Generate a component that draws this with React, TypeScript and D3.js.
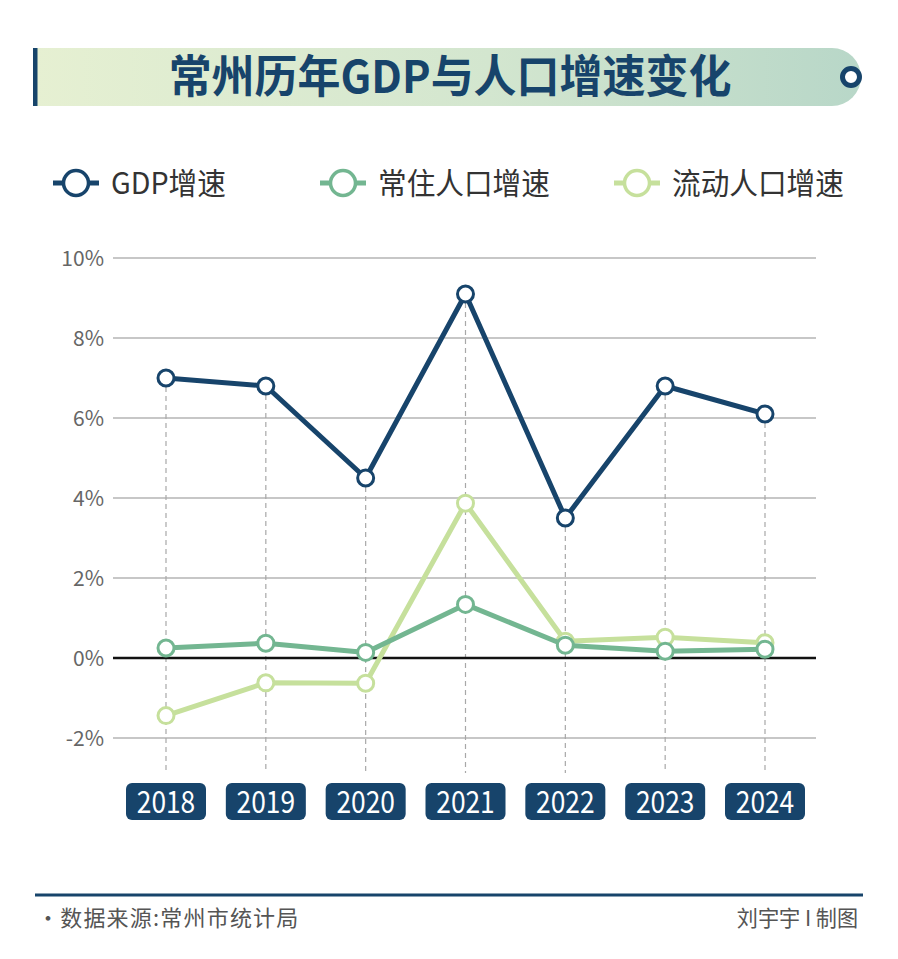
import React from "react";
import * as d3 from "d3";

const years = ["2018", "2019", "2020", "2021", "2022", "2023", "2024"];
const gdpGrowth = [7.0, 6.8, 4.5, 9.1, 3.5, 6.8, 6.1];
const residentGrowth = [0.25, 0.37, 0.14, 1.34, 0.32, 0.17, 0.22];
const floatingGrowth = [-1.44, -0.62, -0.63, 3.87, 0.42, 0.52, 0.38];
const yTicks = [10, 8, 6, 4, 2, 0, -2];
const seriesNames = ["GDP增速", "常住人口增速", "流动人口增速"];
const title = "常州历年GDP与人口增速变化";
const sourceText = "·数据来源:常州市统计局";
const creditText = "刘宇宇 I 制图";

const W = 898;
const H = 959;
const NAVY = "#17446b";
const GREEN = "#73b691";
const LIGHT = "#c6e09c";
const FONT = "'Noto Sans CJK SC', 'Noto Sans', sans-serif";

export default function App() {
  const x = d3.scalePoint<string>().domain(years).range([166, 765]);
  const y = d3.scaleLinear().domain([-2, 10]).range([738, 258]);
  const gridX0 = 113;
  const gridX1 = 816;
  const plotBottom = 773;

  const line = d3
    .line<number>()
    .x((_, i) => x(years[i]) as number)
    .y((d) => y(d));

  const series = [
    { name: seriesNames[2], data: floatingGrowth, color: LIGHT },
    { name: seriesNames[1], data: residentGrowth, color: GREEN },
    { name: seriesNames[0], data: gdpGrowth, color: NAVY },
  ];

  const legend = [
    { name: seriesNames[0], color: NAVY, cx: 76, tx: 111 },
    { name: seriesNames[1], color: GREEN, cx: 343, tx: 378 },
    { name: seriesNames[2], color: LIGHT, cx: 637, tx: 672 },
  ];

  return (
    <svg
      width={W}
      height={H}
      viewBox={`0 0 ${W} ${H}`}
      style={{ position: "absolute", left: 0, top: 0, background: "#fff" }}
      fontFamily={FONT}
    >
      <defs>
        <linearGradient id="titleGrad" x1="0" x2="1" y1="0" y2="0">
          <stop offset="0%" stopColor="#e6f0d2" />
          <stop offset="55%" stopColor="#d3e6cf" />
          <stop offset="100%" stopColor="#b8d7c8" />
        </linearGradient>
      </defs>

      {/* Title banner */}
      <path d={`M33,48 H832 A29,29 0 0 1 832,106 H33 Z`} fill="url(#titleGrad)" />
      <rect x={33} y={48} width={4.5} height={58} fill={NAVY} />
      <text
        transform="translate(450,93) scale(0.955,1)"
        textAnchor="middle"
        fontSize={45}
        fontWeight={700}
        fill={NAVY}
      >
        {title}
      </text>
      <circle cx={851} cy={77} r={8.5} fill="#fff" stroke={NAVY} strokeWidth={5} />

      {/* Legend */}
      {legend.map((l) => (
        <g key={l.name}>
          <line x1={l.cx - 23} x2={l.cx + 23} y1={183} y2={183} stroke={l.color} strokeWidth={5} />
          <circle cx={l.cx} cy={183} r={12.5} fill="#fff" stroke={l.color} strokeWidth={3.5} />
          <text transform={`translate(${l.tx},194) scale(0.955,1)`} fontSize={30} fill="#333">
            {l.name}
          </text>
        </g>
      ))}

      {/* Gridlines */}
      {yTicks.map((t) => (
        <g key={t}>
          {t !== 0 && (
            <line x1={gridX0} x2={gridX1} y1={y(t)} y2={y(t)} stroke="#b5b5b5" strokeWidth={1.5} />
          )}
          <text x={104} y={y(t) + 7.5} textAnchor="end" fontSize={21} fill="#666">
            {t}%
          </text>
        </g>
      ))}

      {/* Vertical dashed guides */}
      {years.map((yr, i) => (
        <line
          key={yr}
          x1={x(yr)}
          x2={x(yr)}
          y1={y(gdpGrowth[i])}
          y2={plotBottom}
          stroke="#a8a8a8"
          strokeWidth={1.2}
          strokeDasharray="5,4"
        />
      ))}

      {/* Zero line */}
      <line x1={gridX0} x2={gridX1} y1={y(0)} y2={y(0)} stroke="#111" strokeWidth={2.5} />

      {/* Series */}
      {series.map((s) => (
        <g key={s.name}>
          <path d={line(s.data) || ""} fill="none" stroke={s.color} strokeWidth={5} strokeLinejoin="round" />
          {s.data.map((v, i) => (
            <circle key={i} cx={x(years[i])} cy={y(v)} r={8} fill="#fff" stroke={s.color} strokeWidth={3} />
          ))}
        </g>
      ))}

      {/* Year labels */}
      {years.map((yr) => (
        <g key={yr}>
          <rect x={(x(yr) as number) - 40} y={783} width={80} height={37} rx={6} fill={NAVY} />
          <text
            transform={`translate(${x(yr)},813) scale(0.85,1)`}
            textAnchor="middle"
            fontSize={31}
            fill="#fff"
          >
            {yr}
          </text>
        </g>
      ))}

      {/* Footer */}
      <line x1={35} x2={863} y1={895} y2={895} stroke={NAVY} strokeWidth={3} />
      <text x={37} y={926} fontSize={22} fill="#555" letterSpacing={1.2}>
        {sourceText}
      </text>
      <text transform="translate(858,926) scale(0.96,1)" textAnchor="end" fontSize={22} fill="#555">
        {creditText}
      </text>
    </svg>
  );
}
